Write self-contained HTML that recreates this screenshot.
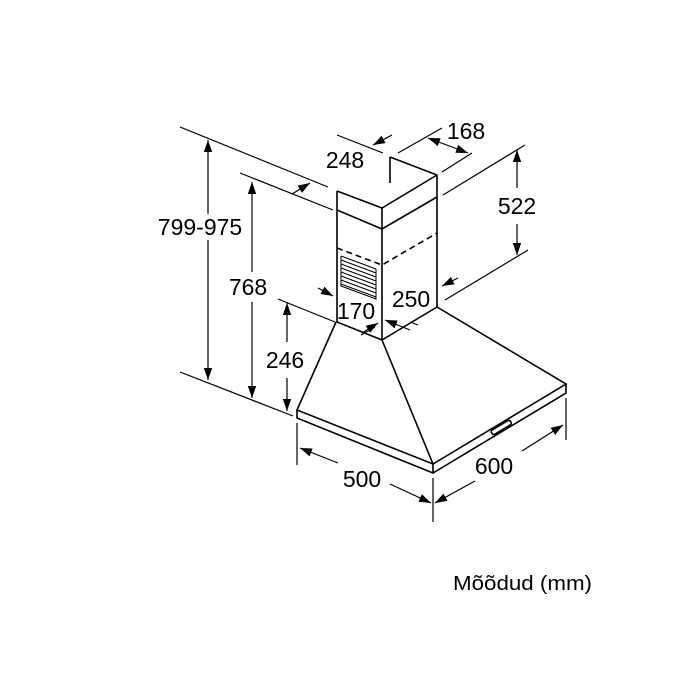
<!DOCTYPE html>
<html><head><style>body{margin:0;background:#fff}svg{display:block}</style></head><body>
<svg width="700" height="700" viewBox="0 0 700 700" xmlns="http://www.w3.org/2000/svg">
<defs>
<marker id="b" viewBox="0 0 10 10" refX="10" refY="5" markerWidth="12" markerHeight="12" orient="auto-start-reverse" markerUnits="userSpaceOnUse"><path d="M0,1.5 L10,5 L0,8.5 z" fill="#000"/></marker>
</defs>
<g stroke="#000" stroke-width="1.6" fill="none">
<path d="M390,157 L437,175 L437,307 M390,157 L390,183"/>
<path d="M337,191 L382,208 L437,175 M337,191 L337,322 L382,340 L437,307"/>
<path d="M382,208 L382,340 M337,210 L382,229 L437,197"/>
<path d="M337,248 L382,265 L437,233" stroke-dasharray="6,4"/>
<g stroke-width="1">
<path d="M341,256 L376,269 M341,260 L376,273 M341,264 L376,277 M341,268 L376,281 M341,272 L376,285 M341,276 L376,289 M341,280 L376,293 M341,284 L376,297 M341,256 L341,286 L376,299 L376,269"/>
</g>
<path d="M336,322 L297,410 L433,464 L566,384 L437,307"/>
<path d="M382,340 L433,464"/>
<path d="M297,410 L297,418 L433,473 L566,393 L566,384 M433,464 L433,473"/>
<rect x="490" y="425" width="22" height="5" rx="2" transform="rotate(-31 501 427)"/>
<g stroke-width="1.2">
<path d="M180,127 L328,187"/>
<path d="M180,372 L293,416"/>
<path d="M240,173 L333,210"/>
<path d="M278,299 L335,322"/>
<path d="M337,135 L383,153"/>
<path d="M398,153 L442,128"/>
<path d="M442,172 L472,153"/>
<path d="M443,195 L525,145"/>
<path d="M445,300 L528,250"/>
<path d="M297,423 L297,465"/>
<path d="M433,478 L433,522"/>
<path d="M566,398 L566,440"/>
<path d="M361,335 L375,327 M410,322 L418,325"/>
</g>
<g stroke-width="1.2">
<path d="M208,214 L208,140" marker-end="url(#b)"/><path d="M208,240 L208,380" marker-end="url(#b)"/>
<path d="M252,272 L252,182" marker-end="url(#b)"/><path d="M252,302 L252,398" marker-end="url(#b)"/>
<path d="M287,342 L287,303" marker-end="url(#b)"/><path d="M287,378 L287,411" marker-end="url(#b)"/>
<path d="M517,188 L517,150" marker-end="url(#b)"/><path d="M517,224 L517,255" marker-end="url(#b)"/>
<path d="M392,135 L373,145" marker-end="url(#b)"/>
<path d="M292,194 L310,183" marker-end="url(#b)"/>
<path d="M428,138 L468,153" marker-start="url(#b)" marker-end="url(#b)"/>
<path d="M318,288 L333,296" marker-end="url(#b)"/>
<path d="M362,333 L378,323" marker-end="url(#b)"/>
<path d="M458,278 L442,286" marker-end="url(#b)"/>
<path d="M410,330 L385,320" marker-end="url(#b)"/>
<path d="M338,463 L300,448" marker-end="url(#b)"/><path d="M390,484 L431,503" marker-end="url(#b)"/>
<path d="M475,481 L435,503" marker-end="url(#b)"/><path d="M522,451 L563,425" marker-end="url(#b)"/>
</g>
</g>
<g font-family="Liberation Sans, sans-serif" font-size="23" fill="#000" text-anchor="middle">
<text x="200" y="235">799-975</text>
<text x="248" y="295">768</text>
<text x="285" y="368">246</text>
<text x="345" y="168">248</text>
<text x="466" y="139">168</text>
<text x="517" y="214">522</text>
<text x="356" y="319">170</text>
<text x="411" y="307">250</text>
<text x="362" y="487">500</text>
<text x="494" y="474">600</text>
</g>
<text x="453" y="590" font-family="Liberation Sans, sans-serif" font-size="20" textLength="139" lengthAdjust="spacingAndGlyphs">Mõõdud (mm)</text>
</svg>
</body></html>
